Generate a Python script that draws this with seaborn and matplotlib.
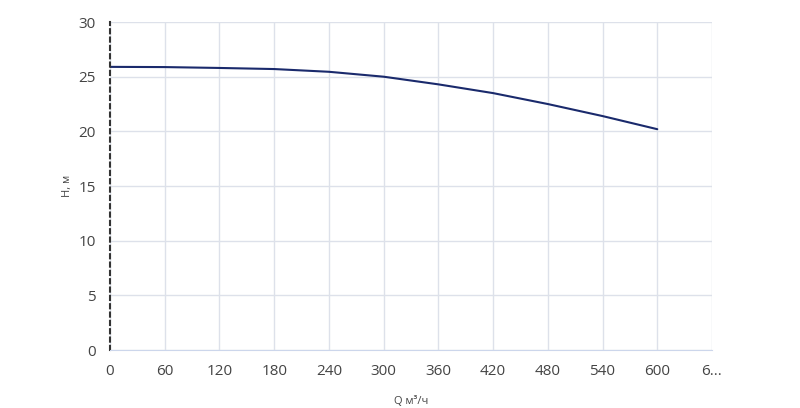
import matplotlib
matplotlib.use("Agg")
import matplotlib.pyplot as plt
import seaborn as sns
import pandas as pd

q = [0, 60, 120, 180, 240, 300, 360, 420, 480, 540, 600]
h = [25.9, 25.88, 25.8, 25.7, 25.45, 25.0, 24.3, 23.5, 22.5, 21.4, 20.2]
xticks = [0, 60, 120, 180, 240, 300, 360, 420, 480, 540, 600, 660]
xlabels = ['0', '60', '120', '180', '240', '300', '360', '420', '480', '540', '600', '6...']

sns.set_style("white")
plt.rcParams['font.family'] = ['Open Sans', 'DejaVu Sans']

df = pd.DataFrame({'Q': q, 'H': h})
fig, ax = plt.subplots(figsize=(8, 4.08), dpi=100)
fig.subplots_adjust(left=0.1375, right=0.89, top=0.946, bottom=0.142)

sns.lineplot(data=df, x='Q', y='H', ax=ax, color='#1a2a6c', linewidth=1.5)

ax.set_xlim(0, 660)
ax.set_ylim(0, 30)
ax.set_xticks(xticks)
ax.set_xticklabels(xlabels)
ax.set_yticks(range(0, 31, 5))
ax.grid(True, color='#dde1ea', linewidth=1)
for s in ['top', 'right']:
    ax.spines[s].set_visible(False)
ax.spines['bottom'].set_color('#ccd6eb')
ax.spines['left'].set_color('#333333')
ax.spines['left'].set_linewidth(1.5)
ax.spines['left'].set_linestyle((0, (2, 2)))
ax.tick_params(axis='x', length=8, color='#ccd6eb', labelsize=11, labelcolor='#444444', pad=2)
ax.tick_params(axis='y', length=0, labelsize=11, labelcolor='#444444', pad=10)
ax.set_xlabel('Q м³/ч', fontsize=8, color='#444444', labelpad=12)
ax.set_ylabel('H, м', fontsize=8, color='#444444', labelpad=4)

fig.savefig('out.png')
